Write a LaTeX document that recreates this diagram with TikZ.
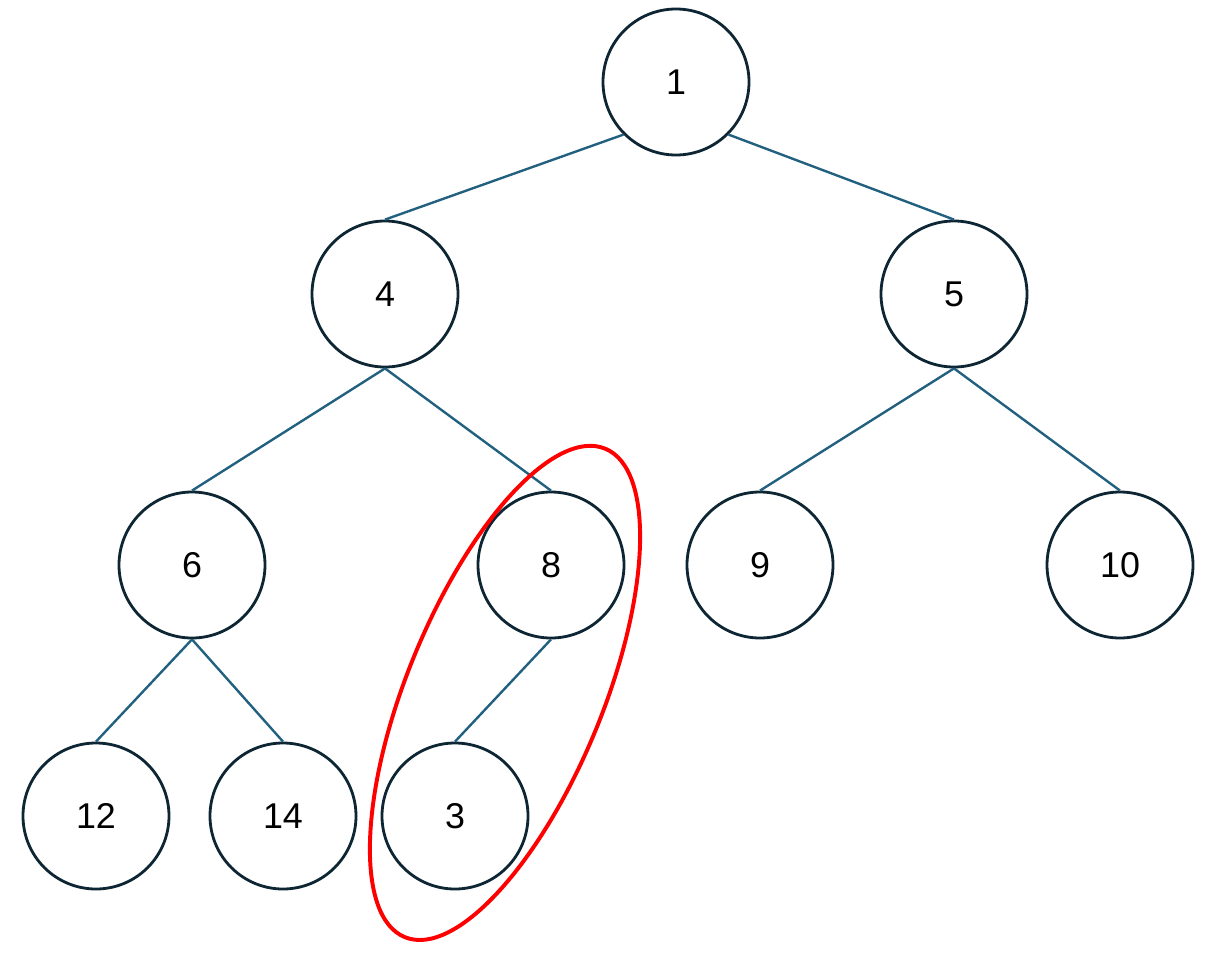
\documentclass[tikz,border=0pt]{standalone}
\usepackage{fontspec}
\setmainfont{Liberation Sans}
\usepackage{tikz}
\usetikzlibrary{positioning,calc}
\definecolor{NodeNavy}{RGB}{14,38,52}
\definecolor{EdgeTeal}{RGB}{34,96,128}
\definecolor{MarkRed}{RGB}{255,0,0}
\tikzset{
  treenode/.style={circle,draw=NodeNavy,line width=2pt,fill=white,
    minimum size=3.65cm,inner sep=0pt,font=\fontsize{25.5}{30}\selectfont},
  edge/.style={draw=EdgeTeal,line width=1.7pt},
  highlight/.style={draw=MarkRed,line width=2.8pt}
}
\begin{document}
\begin{tikzpicture}[on grid]
  \useasboundingbox (0,0) rectangle (30.45,-23.925);
  % root and first level
  \node[treenode] (n1) at (16.9,-2.05) {1};
  \node[treenode,below left=5.3cm and 7.275cm of n1] (n4) {4};
  \node[treenode,below right=5.3cm and 6.95cm of n1] (n5) {5};
  % second level
  \node[treenode,below left=6.775cm and 4.825cm of n4] (n6) {6};
  \node[treenode,below right=6.775cm and 4.15cm of n4] (n8) {8};
  \node[treenode,below left=6.775cm and 4.85cm of n5] (n9) {9};
  \node[treenode,below right=6.775cm and 4.15cm of n5] (n10) {10};
  % leaves
  \node[treenode,below left=6.275cm and 2.4cm of n6] (n12) {12};
  \node[treenode,below right=6.275cm and 2.275cm of n6] (n14) {14};
  \node[treenode,below left=6.275cm and 2.4cm of n8] (n3) {3};
  % edges
  \draw[edge] (n1.225) -- (n4.north);
  \draw[edge] (n1.-45) -- (n5.north);
  \draw[edge] (n4.south) -- (n6.north);
  \draw[edge] (n4.south) -- (n8.north);
  \draw[edge] (n5.south) -- (n9.north);
  \draw[edge] (n5.south) -- (n10.north);
  \draw[edge] (n6.south) -- (n12.north);
  \draw[edge] (n6.south) -- (n14.north);
  \draw[edge] (n8.south) -- (n3.north);
  % marked pair
  \coordinate (pair) at ($(n8)!0.5!(n3)+(0.05,-0.06)$);
  \draw[highlight] (pair) ellipse [x radius=6.6cm,y radius=2.45cm,rotate=67.7];
\end{tikzpicture}
\end{document}
